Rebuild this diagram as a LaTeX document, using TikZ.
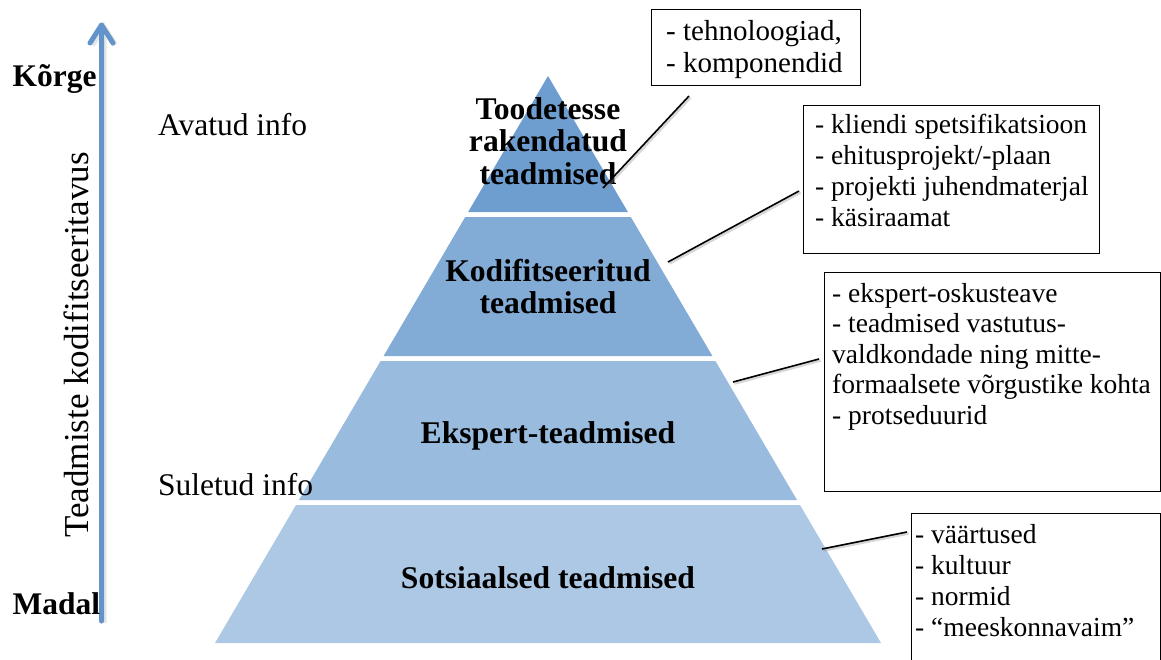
\documentclass[tikz,border=0pt]{standalone}
\usepackage{fontspec}
\setmainfont{Liberation Serif}
\definecolor{layA}{RGB}{110,157,207}
\definecolor{layB}{RGB}{130,171,214}
\definecolor{layC}{RGB}{152,187,222}
\definecolor{layD}{RGB}{173,200,228}
\definecolor{axisblue}{RGB}{98,147,202}
\begin{document}
\begin{tikzpicture}[x=1pt,y=-1pt,
  lbl/.style={font=\fontsize{31.6}{32.5}\selectfont\bfseries, align=center, inner sep=0},
  side/.style={font=\fontsize{31.5}{34}\selectfont, inner sep=0, anchor=base west},
  sidebold/.style={side, font=\fontsize{31.5}{34}\selectfont\bfseries},
  infobox/.style={draw=black, line width=1.3pt, fill=white, inner sep=0, anchor=north west},
  info/.style={font=\fontsize{27.5}{31}\selectfont, align=left, inner sep=0, anchor=north west},
  conn/.style={line width=1.6pt, black, preaction={draw=black!45, opacity=0.35, line width=2.6pt, transform canvas={shift={(1.5pt,-1.5pt)}}}},
  axisline/.style={draw=axisblue, line width=5pt, line cap=round, line join=round, preaction={draw=black!40, opacity=0.25, line width=6pt, transform canvas={shift={(2pt,-2pt)}}}},
]
\useasboundingbox (0,0) rectangle (1161,659);
\clip (0,0) rectangle (1161,659);

% pyramid layers
\fill[layA] (548,76) -- (627.9,212) -- (468.1,212) -- cycle;
\fill[layB] (465.2,217) -- (630.8,217) -- (712.4,356) -- (383.6,356) -- cycle;
\fill[layC] (380.6,361) -- (715.4,361) -- (797.0,500) -- (299.0,500) -- cycle;
\fill[layD] (296.0,505) -- (800.0,505) -- (881.0,643) -- (215.0,643) -- cycle;

% pyramid labels
\node[lbl, anchor=north] (ltop) at (548,93) {\rule{0pt}{26pt}Toodetesse\\rakendatud\\teadmised};
\node[lbl, anchor=north] (lkod) at (548,255) {\rule{0pt}{26pt}Kodifitseeritud\\teadmised};
\node[lbl, anchor=base] (leks) at (548,443) {Ekspert-teadmised};
\node[lbl, anchor=base] (lsot) at (548,588) {Sotsiaalsed teadmised};

% axis arrow
\coordinate (abot) at (101.5,621);
\coordinate (atop) at (101.5,25);
\draw[axisline] (abot) -- (atop) (atop) ++(-11.5,18) -- (atop) -- ++(11.5,18);
\node[sidebold] (korge) at (12.5,86) {Kõrge};
\node[sidebold] (madal) at (12.5,614) {Madal};
\node[font=\fontsize{35}{38}\selectfont, inner sep=0, rotate=90, anchor=base] (kodif) at (88,345) {Teadmiste kodifitseeritavus};
\node[side] (avatud) at (158,135) {Avatud info};
\node[side] (suletud) at (158,495) {Suletud info};

% info boxes
\node[infobox, minimum width=209pt, minimum height=76.5pt] (b1) at (650.5,8.5) {};
\node[infobox, minimum width=296pt, minimum height=148pt] (b2) at (803,105) {};
\node[infobox, minimum width=336pt, minimum height=219pt] (b3) at (824,272) {};
\node[infobox, minimum width=249pt, minimum height=170pt] (b4) at (911,513) {};

\node[info, font=\fontsize{29}{32}\selectfont] (t1) at (666,16) {\rule{0pt}{24pt}- tehnoloogiad,\\- komponendid};
\node[info] (t2) at (815,109) {\rule{0pt}{24pt}- kliendi spetsifikatsioon\\- ehitusprojekt/-plaan\\- projekti juhendmaterjal\\- käsiraamat};
\node[info, font=\fontsize{27.5}{30.5}\selectfont] (t3) at (832,278) {\rule{0pt}{24pt}- ekspert-oskusteave\\- teadmised vastutus-\\valdkondade ning mitte-\\formaalsete võrgustike kohta\\- protseduurid};
\node[info] (t4) at (915,519) {\rule{0pt}{24pt}- väärtused\\- kultuur\\- normid\\- “meeskonnavaim”};

% connectors
\coordinate (c1a) at (689,96);  \coordinate (c1b) at (603,188);
\coordinate (c2a) at (799,191); \coordinate (c2b) at (668,262);
\coordinate (c3a) at (819,359); \coordinate (c3b) at (733,382);
\coordinate (c4a) at (907,532); \coordinate (c4b) at (822,549);
\draw[conn] (c1a) -- (c1b);
\draw[conn] (c2a) -- (c2b);
\draw[conn] (c3a) -- (c3b);
\draw[conn] (c4a) -- (c4b);
\end{tikzpicture}
\end{document}
